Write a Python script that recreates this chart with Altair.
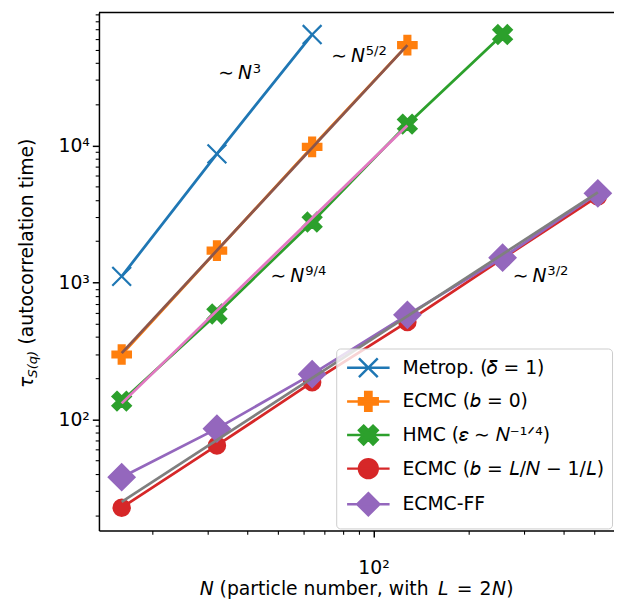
import altair as alt
import pandas as pd

# ---------------- values ----------------
N_values = [16, 32, 64, 128, 256, 512]

series_names = [
    "Metrop. (𝛿 = 1)",
    "ECMC (𝑏 = 0)",
    "HMC (𝜀 ∼ 𝑁⁻¹ᐟ⁴)",
    "ECMC (𝑏 = 𝐿/𝑁 − 1/𝐿)",
    "ECMC-FF",
]
metrop_tau = [1107, 8690, 64500]
ecmc_b0_tau = [298, 1706, 9750, 54000]
hmc_tau = [136, 589, 2760, 14300, 64500]
ecmc_bl_tau = [22.7, 64.6, 187, 515, 1493, 4250]
ecmc_ff_tau = [37.9, 85.7, 214, 580, 1517, 4470]
series_tau = [metrop_tau, ecmc_b0_tau, hmc_tau, ecmc_bl_tau, ecmc_ff_tau]

fit_names = ["N^(5/2)", "N^(9/4)", "N^(3/2)"]
fit_N = [[16, 128], [16, 128], [16, 512]]
fit_tau = [[305, 54000], [131, 14000], [25, 4550]]

annot_N = [32.3, 73.5, 47.3, 275.5]
annot_tau = [30300, 40500, 1007, 1007]
annot_exponent = ["3", "5/2", "9/4", "3/2"]

x_tick_values = [20, 30, 40, 50, 60, 70, 80, 90, 100, 200, 300, 400, 500]
y_tick_values = [20, 30, 40, 50, 60, 70, 80, 90,
                 100, 200, 300, 400, 500, 600, 700, 800, 900,
                 1000, 2000, 3000, 4000, 5000, 6000, 7000, 8000, 9000,
                 10000, 20000, 30000, 40000, 50000, 60000, 70000, 80000, 90000]

# ---------------- styles ----------------
FONT = "DejaVu Sans"
FS = 19
series_colors = ["#1f77b4", "#ff7f0e", "#2ca02c", "#d62728", "#9467bd"]
fit_colors = ["#8c564b", "#e377c2", "#7f7f7f"]

PLUS = "M-0.333,-1H0.333V-0.333H1V0.333H0.333V1H-0.333V0.333H-1V-0.333H-0.333Z"
XFILL = ("M-0.5,-1L0,-0.5L0.5,-1L1,-0.5L0.5,0L1,0.5L0.5,1L0,0.5L-0.5,1"
         "L-1,0.5L-0.5,0L-1,-0.5Z")
XTHIN = "M-1,-1L1,1M-1,1L1,-1"
marker_shapes = [XTHIN, PLUS, XFILL, "circle", "diamond"]
marker_sizes = [361, 361, 361, 283, 700]
marker_stroke = [2.2, 1.9, 1.9, 1.9, 1.9]

LINE = "M-2.15,0H2.15"
legend_paths = [
    LINE + "M-0.95,-0.95L0.95,0.95M-0.95,0.95L0.95,-0.95",
    LINE + "M-0.317,-0.95H0.317V-0.317H0.95V0.317H0.317V0.95H-0.317V0.317H-0.95V-0.317H-0.317Z",
    LINE + ("M-0.475,-0.95L0,-0.475L0.475,-0.95L0.95,-0.475L0.475,0L0.95,0.475"
            "L0.475,0.95L0,0.475L-0.475,0.95L-0.95,0.475L-0.475,0L-0.95,-0.475Z"),
    LINE + "M0.95,0A0.95,0.95,0,1,1,-0.95,0A0.95,0.95,0,1,1,0.95,0Z",
    LINE + "M0,-1.12L1.12,0L0,1.12L-1.12,0Z",
]

W, H = 521, 524
X_DOMAIN = [13.56, 575.9]
Y_DOMAIN = [15.49, 93540]

# ---------------- tables ----------------
rows = []
for name, taus in zip(series_names, series_tau):
    for n, t in zip(N_values, taus):
        rows.append({"series": name, "N": n, "tau": t})
df = pd.DataFrame(rows)

fit_rows = []
for name, ns, ts in zip(fit_names, fit_N, fit_tau):
    for n, t in zip(ns, ts):
        fit_rows.append({"fit": name, "N": n, "tau": t})
fit_df = pd.DataFrame(fit_rows)

annot_df = pd.DataFrame({"N": annot_N, "tau": annot_tau, "exp": annot_exponent})
one = pd.DataFrame({"k": [0]})

major_test = "datum.value == 100 || datum.value == 1000 || datum.value == 10000"
common_axis = dict(
    title=None, grid=False, labelFont=FONT, labelFontSize=FS, labelColor="black",
    tickColor="black", domainColor="black", domainWidth=1.5, labelOverlap=False,
    labelFlush=False,
    tickSize={"condition": {"test": major_test, "value": 6.7}, "value": 3.8},
    tickWidth={"condition": {"test": major_test, "value": 1.5}, "value": 1.1},
)
x_axis = alt.Axis(values=x_tick_values,
                  labelExpr="datum.value == 100 ? '10²' : ''",
                  labelPadding=22, **common_axis)
y_axis = alt.Axis(values=y_tick_values,
                  labelExpr=("datum.value == 100 ? '10²' : datum.value == 1000 ? '10³' : "
                             "datum.value == 10000 ? '10⁴' : ''"),
                  labelPadding=3, **common_axis)


def X():
    return alt.X("N:Q", scale=alt.Scale(type="log", domain=X_DOMAIN, nice=False), axis=x_axis)


def Y():
    return alt.Y("tau:Q", scale=alt.Scale(type="log", domain=Y_DOMAIN, nice=False), axis=y_axis)


layers = []
for i, name in enumerate(series_names):
    sub = df[df.series == name]
    layers.append(alt.Chart(sub).mark_line(color=series_colors[i], strokeWidth=2.8)
                  .encode(x=X(), y=Y()))
    layers.append(alt.Chart(sub).mark_point(
        shape=marker_shapes[i], size=marker_sizes[i], filled=True, opacity=1,
        fill=series_colors[i], stroke=series_colors[i], strokeWidth=marker_stroke[i])
        .encode(x=X(), y=Y()))

for i, name in enumerate(fit_names):
    sub = fit_df[fit_df.fit == name]
    layers.append(alt.Chart(sub).mark_line(color=fit_colors[i], strokeWidth=2.8)
                  .encode(x=X(), y=Y()))

# annotations  "~ N^p"
layers.append(alt.Chart(annot_df).mark_text(
    text="∼", align="left", baseline="alphabetic", font=FONT, fontSize=FS, color="black")
    .encode(x=X(), y=Y()))
layers.append(alt.Chart(annot_df).mark_text(
    text="N", align="left", baseline="alphabetic", font=FONT, fontSize=FS, fontStyle="italic",
    color="black", dx=20).encode(x=X(), y=Y()))
layers.append(alt.Chart(annot_df).mark_text(
    align="left", baseline="alphabetic", font=FONT, fontSize=13.3, color="black",
    dx=35, dy=-7).encode(x=X(), y=Y(), text="exp:N"))

# y-axis title pieces: tau_{S(q)} (autocorrelation time)
ytitle = [("τ", FS, "italic", -67, 380), ("S(q)", 13.3, "italic", -62.5, 369.5),
          ("(autocorrelation time)", FS, "normal", -67, 336)]
for txt, fs, st, xx, yy in ytitle:
    layers.append(alt.Chart(one).mark_text(
        text=txt, angle=270, align="left", baseline="alphabetic", font=FONT, fontSize=fs,
        fontStyle=st, color="black").encode(x=alt.value(xx), y=alt.value(yy)))

# x-axis title pieces: N (particle number, with L = 2N)
XT_Y = 589
xtitle = [("N", "italic", 102), ("(particle number, with", "normal", 122),
          ("L", "italic", 343), ("=", "normal", 362), ("2", "normal", 385),
          ("N", "italic", 397.5), (")", "normal", 412)]
for txt, st, xx in xtitle:
    layers.append(alt.Chart(one).mark_text(
        text=txt, align="left", baseline="alphabetic", font=FONT, fontSize=FS,
        fontStyle=st, color="black").encode(x=alt.value(xx), y=alt.value(XT_Y)))

# top spine
layers.append(alt.Chart(one).mark_rule(color="black", strokeWidth=1.5)
              .encode(x=alt.value(0), x2=alt.value(W), y=alt.value(0)))

# legend layer (draws nothing, carries the legend)
leg = alt.Legend(orient="none", legendX=240, legendY=340, title=None,
                 labelFont=FONT, labelFontSize=FS, labelColor="black", labelLimit=400,
                 symbolSize=400, symbolStrokeWidth=2.5, symbolOffset=13, labelOffset=23,
                 rowPadding=5, padding=8, fillColor="rgba(255,255,255,0.8)",
                 strokeColor="#cccccc", cornerRadius=4)
layers.append(alt.Chart(df).transform_filter("false").mark_point(
    filled=True, opacity=1, size=400, strokeWidth=2.5).encode(
    x=X(), y=Y(),
    fill=alt.Fill("series:N", scale=alt.Scale(domain=series_names, range=series_colors), legend=leg),
    stroke=alt.Stroke("series:N", scale=alt.Scale(domain=series_names, range=series_colors), legend=leg),
    shape=alt.Shape("series:N", scale=alt.Scale(domain=series_names, range=legend_paths), legend=leg),
))

chart = alt.layer(*layers).properties(
    width=W, height=H,
    padding={"left": 92, "top": 1, "right": 0, "bottom": 72},
    autosize=alt.AutoSizeParams(type="none"),
).configure_view(stroke=None)

chart.save("out.html", embed_options={"renderer": "svg", "actions": False})
